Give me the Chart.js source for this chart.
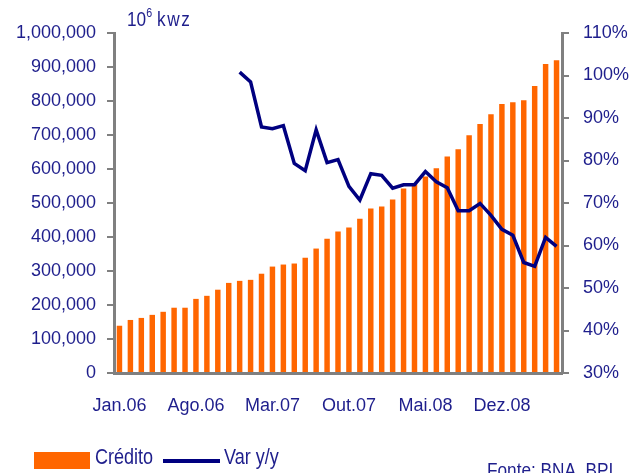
<!DOCTYPE html>
<html>
<head>
<meta charset="utf-8">
<script src="https://cdn.jsdelivr.net/npm/chart.js@4"></script>
<style>
  html, body { margin: 0; padding: 0; width: 638px; height: 473px; overflow: hidden; background: #fff; }
  body { position: relative; font-family: "Liberation Sans", Arial, sans-serif; color: #1e1e8c; }
  #wrap { position: absolute; left: 0; top: 0; width: 638px; height: 473px; }
  .txt { position: absolute; font-size: 21px; white-space: nowrap; line-height: 1; transform: scaleX(0.82); transform-origin: left top; }
  #unit sup { font-size: 13px; position: relative; top: -2px; vertical-align: top; }
  .swatch { position: absolute; }
</style>
</head>
<body>
<div id="wrap"><canvas id="chart" width="638" height="473"></canvas></div>
<div id="unit" class="txt" style="left:127px; top:8px;">10<sup>6</sup> <span style="letter-spacing:2px">kwz</span></div>
<div id="legend"></div>
<div class="txt" style="left:487px; top:459px;">Fonte: BNA, BPI</div>
<script>
const months = [
  "Jan.06","Fev.06","Mar.06","Abr.06","Mai.06","Jun.06","Jul.06","Ago.06","Set.06","Out.06","Nov.06","Dez.06",
  "Jan.07","Fev.07","Mar.07","Abr.07","Mai.07","Jun.07","Jul.07","Ago.07","Set.07","Out.07","Nov.07","Dez.07",
  "Jan.08","Fev.08","Mar.08","Abr.08","Mai.08","Jun.08","Jul.08","Ago.08","Set.08","Out.08","Nov.08","Dez.08",
  "Jan.09","Fev.09","Mar.09","Abr.09","Mai.09"
];

// credit stock, 10^6 kwz
const credito = [
  139000,156000,162000,171000,180000,192000,192000,218000,227000,245000,265000,271000,
  274000,292000,313000,319000,322000,339000,366000,395000,416000,428000,454000,484000,
  490000,510000,543000,555000,578000,602000,637000,658000,699000,732000,761000,791000,
  796000,802000,844000,909000,920000
];

// year on year change, %
const varYY = [
  null,null,null,null,null,null,null,null,null,null,null,100.8,
  98.5,87.9,87.5,88.2,79.3,77.6,87.2,79.5,80.2,73.9,70.7,76.9,
  76.5,73.5,74.3,74.3,77.4,75.0,73.6,68.2,68.2,69.9,67.1,63.8,
  62.4,56.0,55.1,61.9,59.8
];

const navy = "#1e1e8c";
const gray = "#808080";
const font = { family: "'Liberation Sans', Arial, sans-serif", size: 18 };

const chart = new Chart(document.getElementById("chart"), {
  data: {
    labels: months,
    datasets: [
      {
        type: "line",
        label: "Var y/y",
        data: varYY,
        yAxisID: "y1",
        borderColor: "#000080",
        backgroundColor: "#000080",
        borderWidth: 3.5,
        pointRadius: 0,
        tension: 0,
        order: 0,
      },
      {
        type: "bar",
        label: "Crédito",
        data: credito,
        yAxisID: "y",
        backgroundColor: "#ff6600",
        barPercentage: 0.5,
        categoryPercentage: 1,
        order: 1,
      },
    ],
  },
  options: {
    responsive: false,
    animation: false,
    layout: { padding: { top: 33, left: 0, right: 0, bottom: 0 } },
    plugins: { legend: { display: false }, tooltip: { enabled: false } },
    scales: {
      x: {
        offset: true,
        grid: { display: false },
        border: { color: gray, width: 3 },
        ticks: {
          autoSkip: false,
          maxRotation: 0,
          padding: 14,
          color: navy,
          font,
          callback: (v, i) => (i % 7 === 0 ? months[i] : ""),
        },
        afterFit: s => { s.height = 100; },
      },
      y: {
        position: "left",
        min: 0,
        max: 1000000,
        grid: { drawOnChartArea: false, color: gray, lineWidth: 2, tickLength: 7 },
        border: { color: gray, width: 3 },
        ticks: {
          stepSize: 100000,
          padding: 11,
          color: navy,
          font,
          callback: v => v.toLocaleString("en-US"),
        },
        afterFit: s => { s.width = 114; },
      },
      y1: {
        position: "right",
        min: 30,
        max: 110,
        grid: { drawOnChartArea: false, color: gray, lineWidth: 2, tickLength: 7 },
        border: { color: gray, width: 3 },
        ticks: {
          stepSize: 10,
          padding: 14,
          color: navy,
          font,
          callback: v => v + "%",
        },
        afterFit: s => { s.width = 76; },
      },
    },
  },
});

// html legend built from the datasets
const legend = document.getElementById("legend");
const bar = chart.data.datasets[1];
const line = chart.data.datasets[0];
legend.innerHTML =
  '<span class="swatch" style="left:34px;top:452px;width:56px;height:17px;background:' + bar.backgroundColor + '"></span>' +
  '<span class="txt" style="left:95px;top:446px;font-size:22px">' + bar.label + '</span>' +
  '<span class="swatch" style="left:163px;top:459px;width:57px;height:4px;background:' + line.borderColor + '"></span>' +
  '<span class="txt" style="left:224px;top:446px;font-size:22px">' + line.label + '</span>';
</script>
</body>
</html>
